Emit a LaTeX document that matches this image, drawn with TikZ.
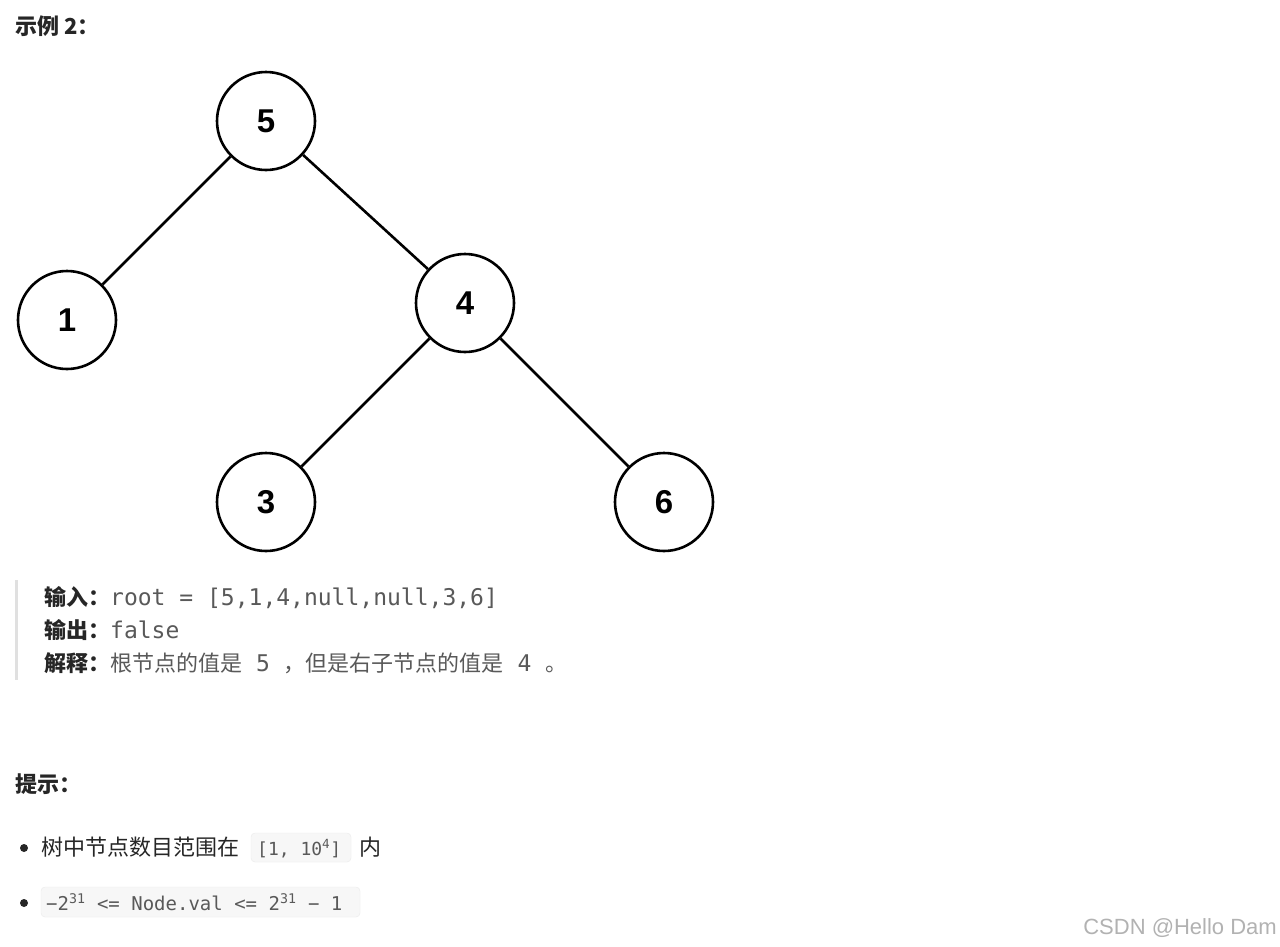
\documentclass[tikz,border=0pt]{standalone}
\usepackage{fontspec}
\setmainfont{Noto Sans CJK SC}
\setmonofont{DejaVu Sans Mono}
\newfontfamily\numfont{Liberation Sans}
\begin{document}
\begin{tikzpicture}[x=1pt,y=-1pt,
  tn/.style={circle,draw,line width=2.6pt,minimum size=98pt,inner sep=0pt,font=\numfont\bfseries\fontsize{33}{33}\selectfont},
  edge/.style={line width=2.6pt},
  txt/.style={anchor=base west,inner sep=0pt,font=\fontsize{22}{26}\selectfont,text=black!85},
  code/.style={font=\ttfamily\fontsize{23}{26}\selectfont,text=black!65},
  chip/.style={fill=black!3,draw=black!8,rounded corners=4pt}]
\useasboundingbox (0,0) rectangle (1280,946);
\fill[white] (0,0) rectangle (1280,946);
\node[txt,font=\bfseries\fontsize{22}{26}\selectfont] (t1) at (15,34) {示例 2：};
\node[tn] (n5) at (266,121) {5};
\node[tn] (n1) at (67,320) {1};
\node[tn] (n4) at (465,303) {4};
\node[tn] (n3) at (266,502) {3};
\node[tn] (n6) at (664,502) {6};
\draw[edge] (n5) -- (n1);
\draw[edge] (n5) -- (n4);
\draw[edge] (n4) -- (n3);
\draw[edge] (n4) -- (n6);
\fill[black!12] (15,580) rectangle (18,680);
\node[txt] (l1) at (44,605) {\textbf{输入：}{\ttfamily\fontsize{23}{26}\selectfont\color{black!65}root = [5,1,4,null,null,3,6]}};
\node[txt] (l2) at (44,638) {\textbf{输出：}{\ttfamily\fontsize{23}{26}\selectfont\color{black!65}false}};
\node[txt] (l3) at (44,671) {\textbf{解释：}{\color{black!65}根节点的值是{\ttfamily\fontsize{23}{26}\selectfont\ 5\ }，但是右子节点的值是{\ttfamily\fontsize{23}{26}\selectfont\ 4\ }。}};
\node[txt,font=\bfseries\fontsize{22}{26}\selectfont] (t2) at (15,792) {提示：};
\fill[black!85] (24,848) circle (4pt);
\fill[black!85] (24,903) circle (4pt);
\draw[chip] (251,833) rectangle (351,862);
\node[txt] (b1) at (41,855) {树中节点数目范围在};
\node[txt,code] (c1) at (257,855) {\fontsize{18}{20}\selectfont[1, 10\textsuperscript{4}]};
\node[txt] (b1b) at (359,855) {内};
\draw[chip] (41,887) rectangle (360,917);
\node[txt,code] (c2) at (46,910) {\fontsize{19}{20}\selectfont−2\textsuperscript{31} <= Node.val <= 2\textsuperscript{31} − 1};
\node[anchor=base east,inner sep=0pt,font=\numfont\fontsize{22}{24}\selectfont,text=black!30] (wm) at (1277,934) {CSDN @Hello Dam};
\end{tikzpicture}
\end{document}
